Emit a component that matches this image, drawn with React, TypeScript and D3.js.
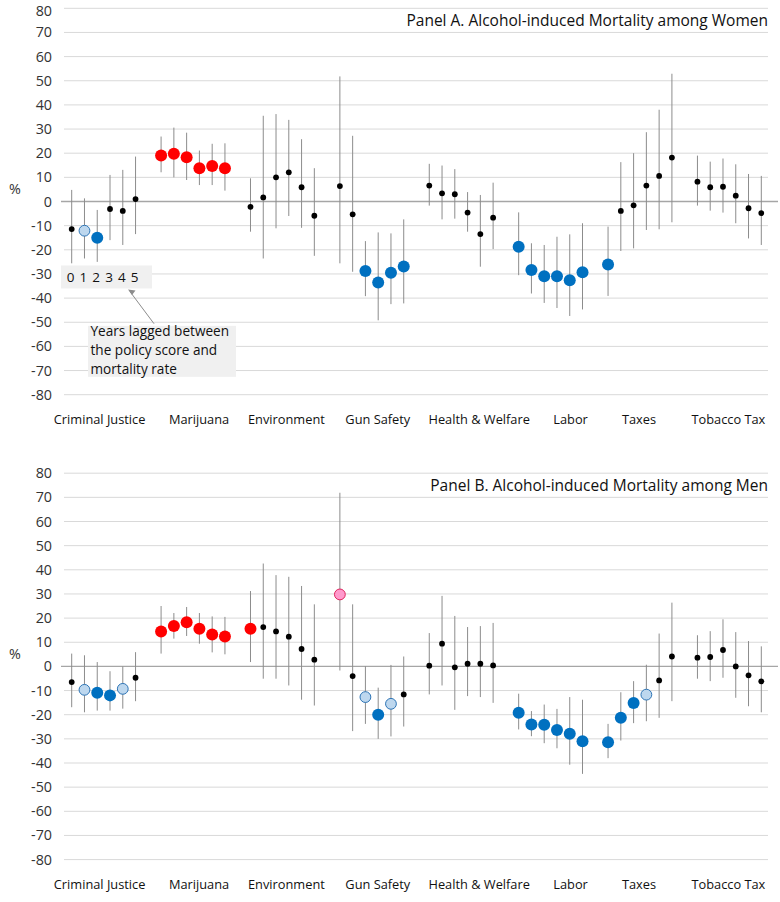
import React from "react";
import * as d3 from "d3";

const categories = ["Criminal Justice", "Marijuana", "Environment", "Gun Safety", "Health & Welfare", "Labor", "Taxes", "Tobacco Tax"];
const lagLabels = ["0", "1", "2", "3", "4", "5"];
const yTicks = [80, 70, 60, 50, 40, 30, 20, 10, 0, -10, -20, -30, -40, -50, -60, -70, -80];

// Panel A: women
const womenEst = [
  -11.4, -12.1, -15.0, -3.1, -3.9, 1.0,
  19.0, 19.8, 18.3, 13.8, 14.7, 13.8,
  -2.2, 1.7, 10.0, 12.1, 5.9, -5.9,
  6.4, -5.3, -28.8, -33.5, -29.5, -26.9,
  6.6, 3.4, 3.0, -4.6, -13.5, -6.7,
  -18.7, -28.4, -31.0, -31.0, -32.6, -29.3,
  -26.1, -3.9, -1.6, 6.6, 10.6, 18.2,
  8.2, 5.9, 6.1, 2.4, -2.8, -4.8,
];
const womenLo = [
  -25.6, -23.6, -25.0, -16.0, -18.0, -13.5,
  12.1, 10.0, 8.9, 6.8, 6.8, 4.5,
  -12.5, -23.6, -11.1, -6.0, -10.9, -22.5,
  -25.6, -29.1, -39.2, -49.2, -42.5, -42.2,
  -1.7, -7.4, -7.1, -12.5, -27.0, -19.7,
  -30.5, -38.1, -42.0, -44.1, -47.4, -44.7,
  -39.1, -20.5, -19.4, -11.8, -11.5, -8.6,
  -1.7, -3.8, -4.6, -9.0, -15.3, -18.0,
];
const womenHi = [
  4.8, 1.3, -3.5, 11.0, 13.1, 18.6,
  26.9, 30.6, 28.5, 21.1, 23.9, 24.1,
  9.6, 35.5, 36.2, 33.8, 25.8, 13.8,
  51.8, 27.2, -16.4, -12.8, -13.2, -7.4,
  15.6, 14.9, 13.4, 3.9, 2.7, 7.8,
  -4.5, -17.3, -18.0, -14.6, -13.6, -9.0,
  -10.4, 16.3, 20.0, 28.7, 38.0, 52.9,
  19.0, 16.5, 17.8, 15.4, 11.4, 10.6,
];
const womenKind = [
  "k", "lb", "b", "k", "k", "k",
  "r", "r", "r", "r", "r", "r",
  "k", "k", "k", "k", "k", "k",
  "k", "k", "b", "b", "b", "b",
  "k", "k", "k", "k", "k", "k",
  "b", "b", "b", "b", "b", "b",
  "b", "k", "k", "k", "k", "k",
  "k", "k", "k", "k", "k", "k",
];

// Panel B: men
const menEst = [
  -6.5, -9.7, -10.9, -12.0, -9.3, -4.7,
  14.5, 16.7, 18.3, 15.6, 13.2, 12.4,
  15.6, 16.3, 14.5, 12.3, 7.2, 2.8,
  29.8, -4.0, -12.7, -20.0, -15.5, -11.6,
  0.3, 9.4, -0.4, 1.1, 1.1, 0.4,
  -19.2, -24.1, -24.2, -26.3, -27.9, -31.0,
  -31.4, -21.3, -15.2, -11.7, -5.8, 4.1,
  3.6, 3.9, 6.8, 0.0, -3.7, -6.2,
];
const menLo = [
  -16.9, -19.0, -18.3, -18.3, -17.5, -14.4,
  5.3, 11.5, 12.6, 9.4, 5.8, 5.0,
  1.8, -5.1, -5.1, -7.9, -13.8, -16.2,
  -1.7, -26.8, -23.8, -30.0, -29.0, -24.9,
  -11.6, -7.9, -18.0, -12.3, -12.7, -15.1,
  -26.1, -28.9, -31.8, -33.9, -40.7, -44.5,
  -38.0, -30.7, -23.5, -22.7, -21.3, -14.4,
  -5.1, -6.1, -4.7, -13.0, -16.5, -19.0,
];
const menHi = [
  5.3, 4.6, 1.8, -2.0, 0.0, 5.9,
  25.0, 22.1, 24.6, 22.1, 20.7, 20.5,
  31.2, 42.6, 37.8, 37.1, 33.3, 25.7,
  71.9, 25.7, 0.1, -8.8, 0.6, 4.1,
  13.8, 29.2, 20.9, 16.3, 16.7, 18.0,
  -11.3, -18.5, -15.8, -17.6, -12.7, -13.8,
  -23.8, -10.7, -6.1, 0.7, 13.6, 26.4,
  12.9, 14.6, 19.5, 14.2, 10.5, 8.3,
];
const menKind = [
  "k", "lb", "b", "b", "lb", "k",
  "r", "r", "r", "r", "r", "r",
  "r", "k", "k", "k", "k", "k",
  "p", "k", "lb", "b", "lb", "k",
  "k", "k", "k", "k", "k", "k",
  "b", "b", "b", "b", "b", "b",
  "b", "b", "b", "lb", "k", "k",
  "k", "k", "k", "k", "k", "k",
];

const annotationLines = ["Years lagged between", "the policy score and", "mortality rate"];

const FONT = "'Open Sans', 'Noto Sans', sans-serif";
const styles: Record<string, { r: number; fill: string; stroke: string }> = {
  k: { r: 2.9, fill: "#000000", stroke: "none" },
  r: { r: 6, fill: "#FF0000", stroke: "none" },
  b: { r: 6, fill: "#0070C0", stroke: "none" },
  lb: { r: 5.4, fill: "#BDD7EE", stroke: "#2E75B6" },
  p: { r: 5.4, fill: "#FF99CC", stroke: "#E0245E" },
};
const labelNudge = [-4, 6, 4, 6, 18, 20, -1, -1];

const xScale = d3.scaleLinear().domain([0, 54]).range([71.7, 761.3]);
const slot = (c: number, lag: number) => c * 7 + lag;

function Panel({ top, title, est, lo, hi, kind, showAnno }: any) {
  const y = d3.scaleLinear().domain([-80, 80]).range([top + 386.4, top]);
  const n = est.length;
  return (
    <g>
      {yTicks.map((t) =>
        t === 0 ? null : (
          <line key={"g" + t} x1={64} x2={768} y1={y(t)} y2={y(t)} stroke="#D9D9D9" strokeWidth={1} />
        )
      )}
      <line x1={61} x2={778} y1={y(0)} y2={y(0)} stroke="#A6A6A6" strokeWidth={1.3} />
      {yTicks.map((t) => (
        <text key={"t" + t} x={52} y={Math.max(y(t), 10.5)} dy="0.35em" textAnchor="end" fontSize={14.3} fill="#333" fontFamily={FONT}>
          {t}
        </text>
      ))}
      <text x={15} y={y(5)} dy="0.35em" textAnchor="middle" fontSize={14.3} fill="#333" fontFamily={FONT}>%</text>
      <text x={768} y={top + 12.5} dy="0.35em" textAnchor="end" fontSize={15.5} fill="#111" fontFamily={FONT}>
        {title}
      </text>
      {categories.map((c, i) => (
        <text key={c} x={xScale(slot(i, 2.5)) + labelNudge[i]} y={y(-80) + 24.5} dy="0.35em" textAnchor="middle" fontSize={12.8} fill="#111" fontFamily={FONT}>
          {c}
        </text>
      ))}
      {showAnno && (
        <g>
          <rect x={61} y={y(-26.5)} width={91} height={23} fill="#F0F0F0" />
          {lagLabels.map((l, i) => (
            <text key={l} x={xScale(slot(0, i)) - 1} y={y(-31.3)} dy="0.35em" textAnchor="middle" fontSize={13.5} fill="#111" fontFamily={FONT}>
              {l}
            </text>
          ))}
          <rect x={88} y={y(-51.5)} width={148} height={51} fill="#F0F0F0" />
          {annotationLines.map((s, i) => (
            <text key={s} x={90.5} y={y(-53.6) + i * 19} dy="0.35em" fontSize={13.6} fill="#111" fontFamily={FONT}>
              {s}
            </text>
          ))}
          <line x1={154} y1={y(-50.6)} x2={130} y2={y(-37.3)} stroke="#8C8C8C" strokeWidth={1} />
          <path d={`M128,${y(-36.4)} l7.5,1.2 l-3.5,4.5 z`} fill="#8C8C8C" />
        </g>
      )}
      {d3.range(n).map((i) => {
        const c = Math.floor(i / 6);
        const lag = i % 6;
        const x = xScale(slot(c, lag));
        const s = styles[kind[i]];
        return (
          <g key={i}>
            <line x1={x} x2={x} y1={y(lo[i])} y2={y(hi[i])} stroke="#8C8C8C" strokeWidth={1} />
            <circle cx={x} cy={y(est[i])} r={s.r} fill={s.fill} stroke={s.stroke} strokeWidth={s.stroke === "none" ? 0 : 1} />
          </g>
        );
      })}
    </g>
  );
}

export default function App() {
  return (
    <svg width={780} height={902} style={{ position: "absolute", left: 0, top: 0, background: "#fff" }}>
      <Panel top={8.3} title="Panel A. Alcohol-induced  Mortality among Women" est={womenEst} lo={womenLo} hi={womenHi} kind={womenKind} showAnno />
      <Panel top={473.2} title="Panel B. Alcohol-induced  Mortality among Men" est={menEst} lo={menLo} hi={menHi} kind={menKind} showAnno={false} />
    </svg>
  );
}
